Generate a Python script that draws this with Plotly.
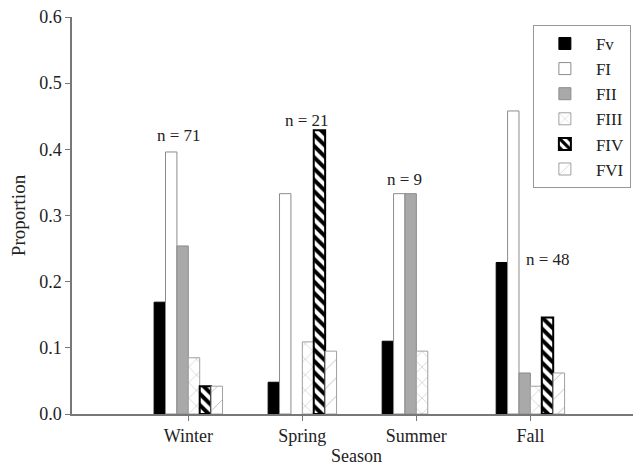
import plotly.graph_objects as go

seasons = ["Winter", "Spring", "Summer", "Fall"]
series_names = ["Fv", "FI", "FII", "FIII", "FIV", "FVI"]
fv   = [0.169, 0.048, 0.110, 0.229]
fi   = [0.396, 0.333, 0.333, 0.458]
fii  = [0.254, None,  0.333, 0.062]
fiii = [0.085, 0.109, 0.095, 0.042]
fiv  = [0.042, 0.429, None,  0.146]
fvi  = [0.042, 0.095, None,  0.062]
n_labels = ["n = 71", "n = 21", "n = 9", "n = 48"]
y_ticks = [0.0, 0.1, 0.2, 0.3, 0.4, 0.5, 0.6]

FONT = "Liberation Serif, Times New Roman, serif"

styles = [
    dict(marker=dict(color="black", line=dict(color="black", width=1))),
    dict(marker=dict(color="white", line=dict(color="#8c8c8c", width=1))),
    dict(marker=dict(color="#a9a9a9", line=dict(color="#8c8c8c", width=1))),
    dict(marker=dict(color="white", line=dict(color="#a0a0a0", width=1),
                     pattern=dict(shape="x", fgcolor="#b0b0b0", bgcolor="white",
                                  size=11, solidity=0.08, fillmode="replace"))),
    dict(marker=dict(color="white", line=dict(color="black", width=2),
                     pattern=dict(shape="\\", fgcolor="black", bgcolor="white",
                                  size=8, solidity=0.5, fillmode="replace"))),
    dict(marker=dict(color="white", line=dict(color="#a0a0a0", width=1),
                     pattern=dict(shape="/", fgcolor="#b0b0b0", bgcolor="white",
                                  size=13, solidity=0.06, fillmode="replace"))),
]

fig = go.Figure()
for name, vals, st in zip(series_names, [fv, fi, fii, fiii, fiv, fvi], styles):
    fig.add_trace(go.Bar(x=seasons, y=vals, name=name, **st))

# n-label placement (category offset, y)
label_pos = [(-0.08, 0.421), (0.04, 0.444), (-0.10, 0.354), (0.15, 0.234)]
for i, (lab, (dx, yy)) in enumerate(zip(n_labels, label_pos)):
    fig.add_annotation(x=i + dx, y=yy, text=lab, showarrow=False,
                       xref="x", yref="y", yanchor="middle",
                       font=dict(family=FONT, size=17, color="#222"))

# page body has an 8px default margin, so the figure is offset by (8, 8)
fig.update_layout(
    width=633, height=460,
    margin=dict(l=64, r=0, t=9, b=54, autoexpand=False),
    paper_bgcolor="white", plot_bgcolor="white",
    barmode="group", bargap=0.4, bargroupgap=0,
    font=dict(family=FONT, size=18, color="#222"),
    showlegend=True,
    legend=dict(x=0.81, y=0.98, xanchor="left", yanchor="top",
                bordercolor="#999", borderwidth=1, bgcolor="white",
                font=dict(family=FONT, size=17, color="#222"),
                tracegroupgap=0, itemwidth=52),
)
fig.update_xaxes(
    type="category", range=[-1.02, 3.97], automargin=False,
    showline=True, linecolor="#777", linewidth=1.5,
    ticks="outside", ticklen=5, tickcolor="#777",
    showgrid=False, zeroline=False,
    title=dict(text="Season", standoff=4, font=dict(family=FONT, size=18)),
    tickfont=dict(family=FONT, size=18),
)
fig.update_yaxes(
    range=[0, 0.6], tickvals=y_ticks, tickformat=".1f", automargin=False,
    ticklabeloverflow="allow",
    showline=True, linecolor="#777", linewidth=1.5,
    ticks="outside", ticklen=5, tickcolor="#777",
    showgrid=False, zeroline=False,
    title=dict(text="Proportion", standoff=12, font=dict(family=FONT, size=19)),
    tickfont=dict(family=FONT, size=18),
)

fig.write_html("out.html")
